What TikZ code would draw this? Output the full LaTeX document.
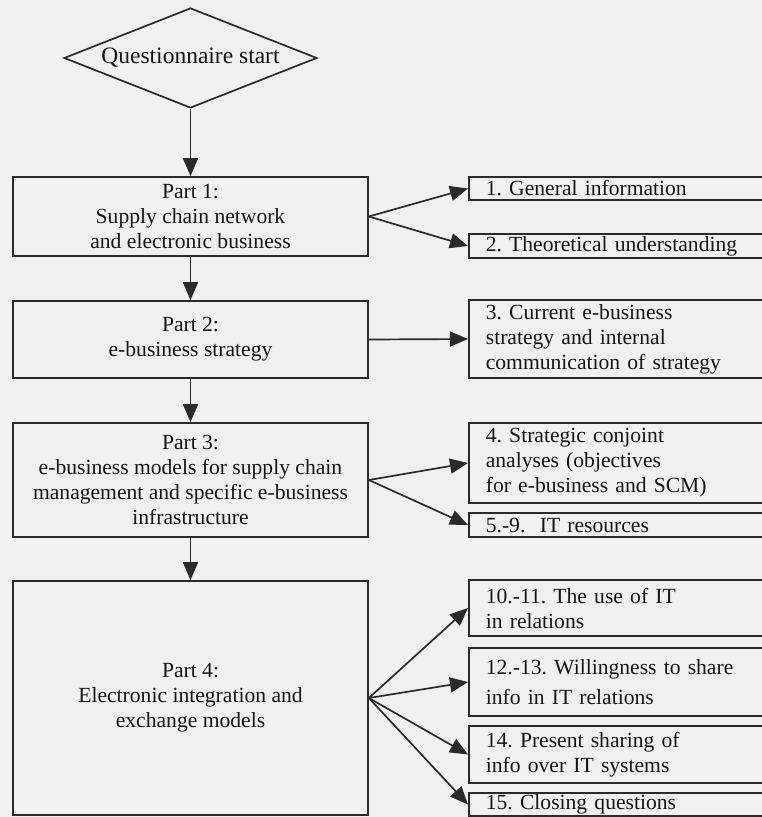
\documentclass[tikz,border=0pt]{standalone}
\usepackage{fontspec}
\setmainfont{Liberation Serif}
\usetikzlibrary{shapes.geometric,arrows.meta}
\definecolor{PaperGray}{HTML}{F0F0F0}
\definecolor{LineGray}{HTML}{2A2A2A}
\definecolor{InkGray}{HTML}{151515}
\frenchspacing

\begin{document}
\begin{tikzpicture}[x=1pt,y=-1pt, every node/.style={font=\fontsize{21.6}{25}\selectfont, text=InkGray},
  partbox/.style={draw=LineGray, line width=1.7pt, minimum width=355pt, inner sep=0pt, align=center},
  itembox/.style={draw=LineGray, line width=1.7pt, anchor=west, minimum width=330pt, text width=296pt,
    inner xsep=17pt, inner ysep=0pt, align=left},
  link/.style={draw=LineGray, line width=1.7pt, -{Triangle[length=18pt,width=15pt]}}]
  \useasboundingbox (0,0) rectangle (762,817);
  \fill[PaperGray] (0,0) rectangle (762,817);
  \clip (0,0) rectangle (762,817);
  % left column
  \node[diamond, draw=LineGray, line width=1.7pt, aspect=2.53, inner sep=0pt, minimum width=253pt,
    minimum height=100pt, font=\fontsize{23.5}{26}\selectfont] (start) at (190.5,58) {Questionnaire start};
  \node[partbox, minimum height=79pt] (part1) at (190.5,216.5) {Part 1:\\Supply chain network\\and electronic business};
  \node[partbox, minimum height=77pt] (part2) at (190.5,339.5) {Part 2:\\e-business strategy};
  \node[partbox, minimum height=114pt] (part3) at (190.5,480) {Part 3:\\e-business models for supply chain\\management and specific e-business\\infrastructure};
  \node[partbox, minimum height=234pt] (part4) at (190.5,698) {Part 4:\\Electronic integration and\\exchange models};
  % right column
  \node[itembox, minimum height=23pt] (gen) at (468,188.5) {1. General information};
  \node[itembox, minimum height=24pt] (theory) at (468,246) {2. Theoretical understanding};
  \node[itembox, minimum height=78pt] (strat) at (468,339) {3. Current e-business\\strategy and internal\\communication of strategy};
  \node[itembox, minimum height=80pt] (conjoint) at (468,463) {4. Strategic conjoint\\analyses (objectives\\for e-business and SCM)};
  \node[itembox, minimum height=24pt] (itres) at (468,525) {5.-9.\ \ IT resources};
  \node[itembox, minimum height=56pt] (ituse) at (468,608) {10.-11. The use of IT\\in relations};
  \node[itembox, minimum height=68pt] (willing) at (468,682) {12.-13. Willingness to share\\[5pt]info in IT relations};
  \node[itembox, minimum height=57pt] (sharing) at (468,754.5) {14. Present sharing of\\info over IT systems};
  \node[itembox, minimum height=23pt] (closing) at (468,804.5) {15. Closing questions};
  % connectors
  \draw[link] (start.south) -- (part1.north);
  \draw[link] (part1.south) -- (part2.north);
  \draw[link] (part2.south) -- (part3.north);
  \draw[link] (part3.south) -- (part4.north);
  \draw[link] (part1.east) -- (gen.west);
  \draw[link] (part1.east) -- (theory.west);
  \draw[link] (part2.east) -- (strat.west);
  \draw[link] (part3.east) -- (conjoint.west);
  \draw[link] (part3.east) -- (itres.west);
  \foreach \item in {ituse,willing,sharing,closing}
    \draw[link] (part4.east) -- (\item.west);
\end{tikzpicture}
\end{document}
